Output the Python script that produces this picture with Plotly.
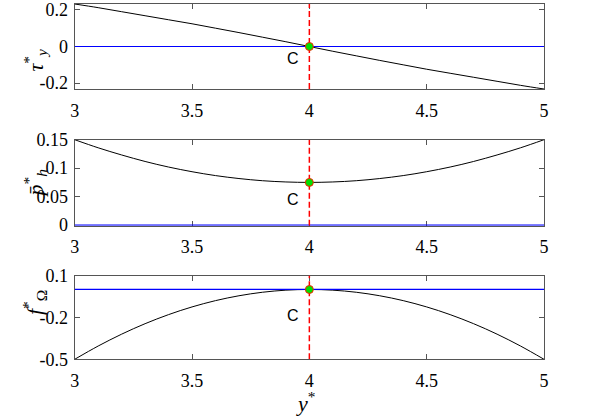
import plotly.graph_objects as go
from plotly.subplots import make_subplots

# data
y_star = [3.0, 3.1, 3.2, 3.3, 3.4, 3.5, 3.6, 3.7, 3.8, 3.9, 4.0,
          4.1, 4.2, 4.3, 4.4, 4.5, 4.6, 4.7, 4.8, 4.9, 5.0]
tau_y = [0.232, 0.212, 0.190, 0.168, 0.146, 0.124, 0.100, 0.076, 0.051, 0.026, 0.0,
         -0.026, -0.051, -0.076, -0.100, -0.124, -0.146, -0.168, -0.190, -0.212, -0.232]
p_h = [0.150, 0.1358, 0.1232, 0.1118, 0.1020, 0.0938, 0.0870, 0.0818, 0.0780, 0.0758, 0.0750,
       0.0758, 0.0780, 0.0818, 0.0870, 0.0938, 0.1020, 0.1118, 0.1232, 0.1358, 0.150]
f_omega = [-0.500, -0.405, -0.320, -0.245, -0.180, -0.125, -0.080, -0.045, -0.020, -0.005, 0.0,
           -0.005, -0.020, -0.045, -0.080, -0.125, -0.180, -0.245, -0.320, -0.405, -0.500]

ref_x = [3, 5]
ref_level = [0, 0]
point_c_x = [4]
tau_c = [0.0]
p_c = [0.075]
f_c = [0.0]

x_ticks = [3, 3.5, 4, 4.5, 5]
x_tick_labels = ["3", "3.5", "4", "4.5", "5"]
tau_ticks = [-0.2, 0, 0.2]
tau_tick_labels = ["-0.2", "0", "0.2"]
p_ticks = [0, 0.05, 0.1, 0.15]
p_tick_labels = ["0", "0.05", "0.1", "0.15"]
f_ticks = [-0.5, -0.2, 0.1]
f_tick_labels = ["-0.5", "-0.2", "0.1"]

panels = [
    (tau_y, tau_c, [-0.232, 0.232], tau_ticks, tau_tick_labels, -0.065),
    (p_h, p_c, [-0.001, 0.15], p_ticks, p_tick_labels, 0.045),
    (f_omega, f_c, [-0.5, 0.1], f_ticks, f_tick_labels, -0.183),
]

W, H = 598, 420


def px_x(p):
    return p / W


def px_y(p):
    return 1 - p / H


fig = make_subplots(rows=3, cols=1)

serif = '"Liberation Serif", "Times New Roman", Times, serif'
x_dom = [px_x(74.7), px_x(544)]
domains = [[px_y(89), px_y(4)], [px_y(225.7), px_y(139.7)], [px_y(359.3), px_y(275.5)]]

for i, (vals, cval, yr, yt, ytl, c_y) in enumerate(panels):
    r = i + 1
    fig.add_trace(go.Scatter(x=y_star, y=vals, mode="lines", line=dict(color="black", width=1),
                             line_shape="spline", showlegend=False), row=r, col=1)
    fig.add_trace(go.Scatter(x=ref_x, y=ref_level, mode="lines", line=dict(color="blue", width=1.2),
                             showlegend=False), row=r, col=1)
    # dashed marker line at C, running over the full panel height
    fig.add_trace(go.Scatter(x=point_c_x * 2, y=yr, mode="lines",
                             line=dict(color="red", width=1.5, dash="6px,3px"),
                             showlegend=False), row=r, col=1)
    fig.add_trace(go.Scatter(x=point_c_x, y=cval, mode="markers", cliponaxis=False,
                             marker=dict(size=8, color="#00e000", line=dict(color="#ff2000", width=1)),
                             showlegend=False), row=r, col=1)
    fig.add_annotation(x=3.93, y=c_y, text="C", showarrow=False, row=r, col=1,
                       font=dict(family='"Liberation Sans", Arial', size=16, color="black"))
    fig.update_xaxes(range=[3, 5], tickvals=x_ticks, ticktext=x_tick_labels, row=r, col=1,
                     domain=x_dom)
    fig.update_yaxes(range=yr, tickvals=yt, ticktext=ytl, domain=domains[i], row=r, col=1)

axis_style = dict(showgrid=False, zeroline=False, showline=True, linecolor="#555555", linewidth=1,
                  mirror="ticks", ticks="inside", ticklen=5, tickcolor="#555555", automargin=False,
                  layer="below traces", tickfont=dict(family=serif, size=18, color="black"))
fig.update_xaxes(ticklabelstandoff=5, **axis_style)
fig.update_yaxes(ticklabelstandoff=2, **axis_style)

# axis labels
labels = [
    ("<i>τ</i><sup>*</sup><sub><i>y</i></sub>", px_y(46.5)),
    ("<i>p̄</i><sup>*</sup><sub><i>h</i></sub>", px_y(183)),
    ("<i>f</i><sup>*</sup><sub>Ω</sub>", px_y(317)),
]
for txt, yy in labels:
    fig.add_annotation(x=px_x(17), y=yy, xref="paper", yref="paper", text=txt, showarrow=False,
                       textangle=-90, font=dict(family=serif, size=22, color="black"))
fig.add_annotation(x=px_x(305), y=px_y(418), xref="paper", yref="paper", text="<i>y</i><sup>*</sup>",
                   showarrow=False, font=dict(family=serif, size=22, color="black"))

fig.update_layout(width=W, height=H, margin=dict(l=0, r=0, t=0, b=0, autoexpand=False),
                  plot_bgcolor="white", paper_bgcolor="white")

# drop the default page margin so the figure sits at the window's corner
fig.write_html("out.html", config={"displayModeBar": False},
               post_script="document.body.style.margin = '0';")
